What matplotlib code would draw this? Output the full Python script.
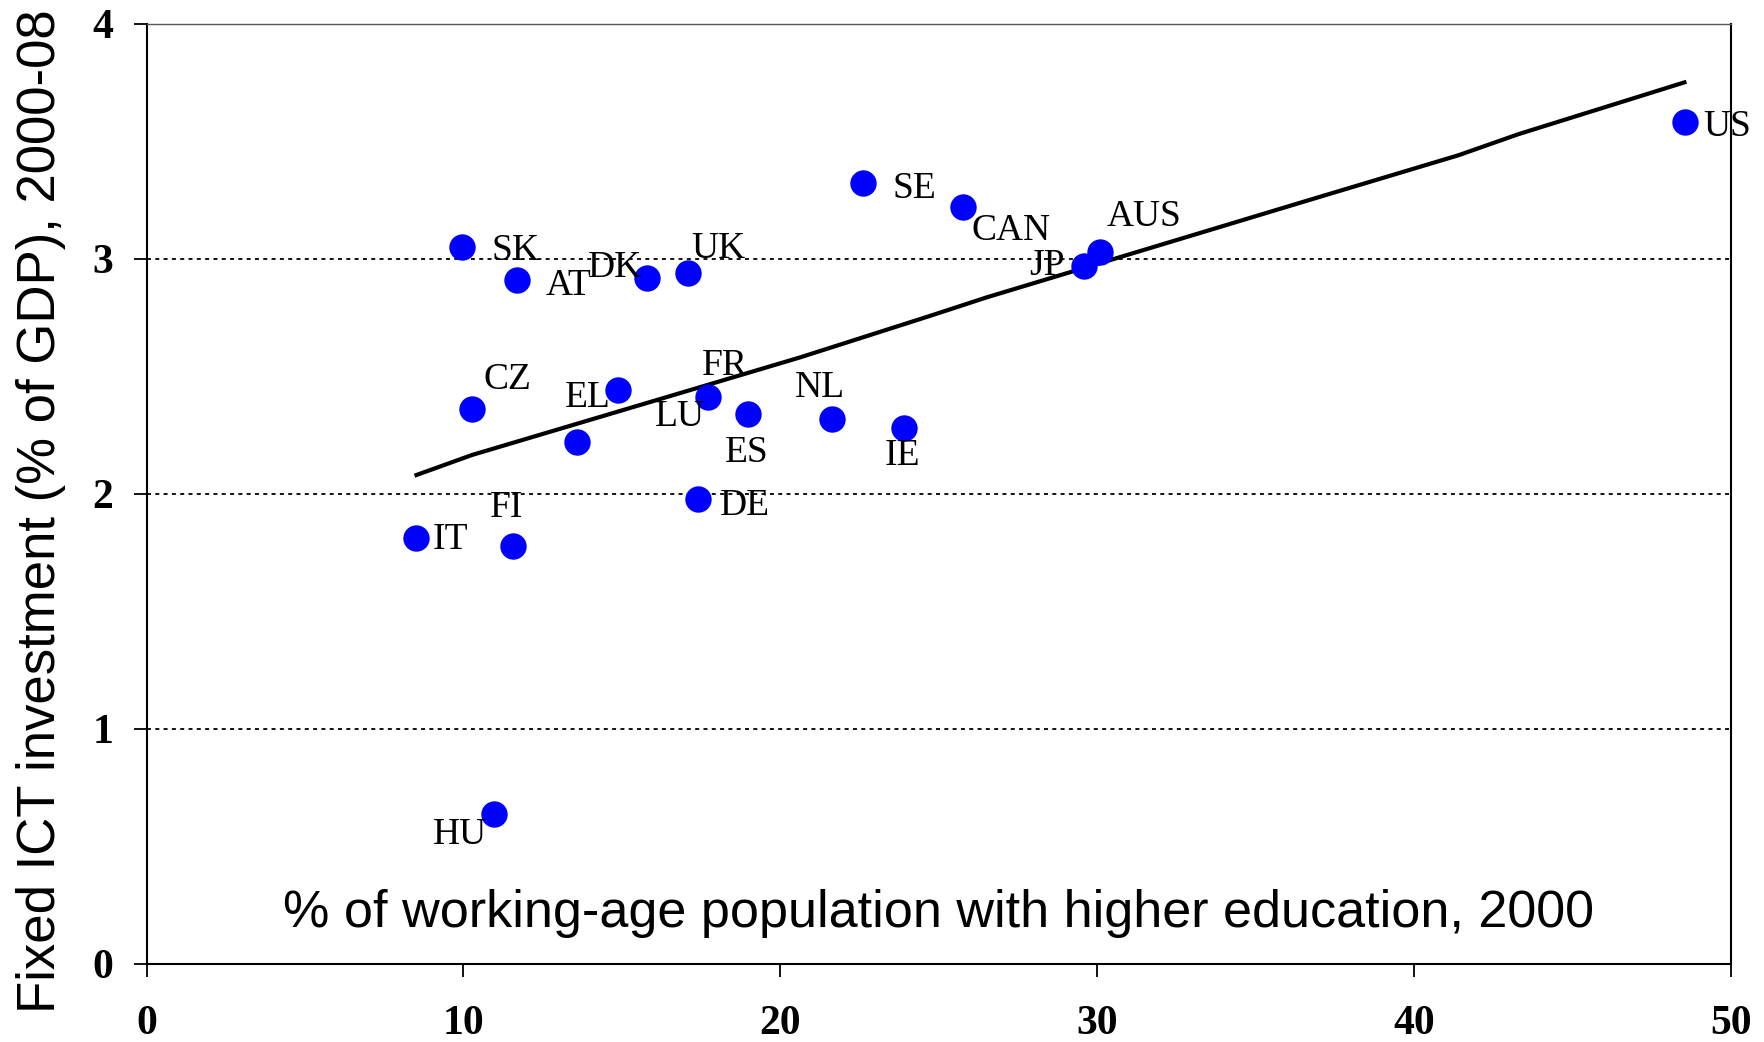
import matplotlib.pyplot as plt
import numpy as np

# country codes and values
countries = ['US', 'SE', 'CAN', 'AUS', 'JP', 'SK', 'AT', 'DK', 'UK', 'CZ',
             'EL', 'LU', 'FR', 'ES', 'NL', 'IE', 'DE', 'IT', 'FI', 'HU']
higher_edu = [48.56, 22.61, 25.78, 30.09, 29.58, 9.97, 11.69, 15.80, 17.09, 10.28,
              13.58, 14.88, 17.71, 18.99, 21.62, 23.89, 17.39, 8.50, 11.57, 10.97]
ict_invest = [3.58, 3.32, 3.22, 3.03, 2.97, 3.05, 2.91, 2.92, 2.94, 2.36,
              2.22, 2.44, 2.41, 2.34, 2.32, 2.28, 1.98, 1.81, 1.78, 0.64]

# trend line as drawn
trend_x = [8.52, 10.27, 20.62, 24.8, 26.5, 36.7, 41.4, 43.3, 48.53]
trend_y = [2.08, 2.165, 2.58, 2.76, 2.835, 3.25, 3.44, 3.53, 3.75]

x_ticks = [0, 10, 20, 30, 40, 50]
y_ticks = [0, 1, 2, 3, 4]

# label placement: (dx pt, dy pt, ha)
label_pos = {
    'US': (13, -3, 'left'), 'SE': (21, -3.5, 'left'), 'CAN': (6, -17, 'left'),
    'AUS': (5, 25, 'left'), 'JP': (-14, 0, 'right'), 'SK': (21, -2.5, 'left'),
    'AT': (21, -4, 'left'), 'DK': (-3.5, 7, 'right'), 'UK': (2, 17, 'left'),
    'CZ': (8, 21, 'left'), 'EL': (8, 32, 'center'), 'LU': (26.5, -19, 'left'),
    'FR': (-4.4, 22.5, 'left'), 'ES': (-17, -28, 'left'), 'NL': (-26.7, 22, 'left'),
    'IE': (-14, -20, 'left'), 'DE': (16, -5, 'left'), 'IT': (12, -1, 'left'),
    'FI': (-16.5, 27, 'left'), 'HU': (-5, -15, 'right'),
}

fig = plt.figure(figsize=(17.64, 10.42), dpi=100)
ax = fig.add_axes([146.5 / 1764, 1 - 964 / 1042, (1731 - 146.5) / 1764, (964 - 23.6) / 1042])

for y in y_ticks[1:]:
    ax.axhline(y, color='black', lw=1.3, linestyle=(0, (2.2, 2.4)), zorder=1)

ax.plot(trend_x, trend_y, color='black', lw=3, zorder=2)
ax.plot(higher_edu, ict_invest, 'o', color='#0000ff', markersize=19,
        markeredgewidth=0, zorder=3)

for c, xv, yv in zip(countries, higher_edu, ict_invest):
    dx, dy, ha = label_pos[c]
    ax.annotate(c, (xv, yv), xytext=(dx, dy), textcoords='offset points',
                ha=ha, va='center', fontsize=27, family='Liberation Serif',
                zorder=4, annotation_clip=False)

ax.text(0.5, 0.0393, '% of working-age population with higher education, 2000',
        transform=ax.transAxes, ha='center', va='baseline', fontsize=37.5,
        family='Liberation Sans')
fig.text(0.023, 0.509, 'Fixed ICT investment (% of GDP), 2000-08', rotation=90,
         ha='center', va='center', fontsize=38, family='Liberation Sans')

ax.set_xlim(0, 50)
ax.set_ylim(0, 4)
ax.set_xticks(x_ticks)
ax.set_yticks(y_ticks)
for lab in ax.get_xticklabels() + ax.get_yticklabels():
    lab.set_family('Liberation Serif')
    lab.set_fontweight('bold')
    lab.set_fontsize(30)
ax.tick_params(axis='y', direction='out', length=9.5, width=1.3, pad=14.5)
ax.tick_params(axis='x', direction='out', length=9.5, width=1.3, pad=20)

for s in ['left', 'bottom', 'right']:
    ax.spines[s].set_linewidth(1.5)
    ax.spines[s].set_color('black')
ax.spines['top'].set_linewidth(1.0)
ax.spines['top'].set_color('#555555')

fig.savefig('out.png', dpi=100)
